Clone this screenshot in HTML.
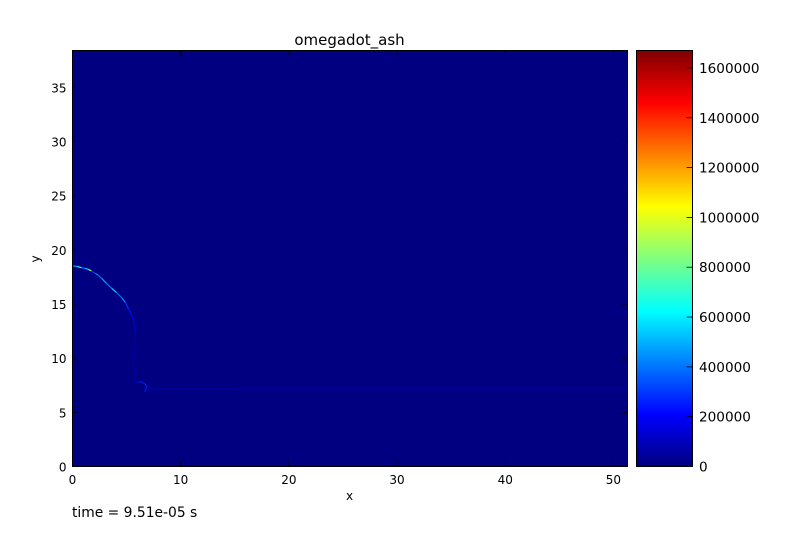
<!DOCTYPE html>
<html>
<head>
<meta charset="utf-8">
<title>omegadot_ash</title>
<style>
html,body{margin:0;padding:0;background:#fff;}
svg{display:block;}
text{font-family:"DejaVu Sans","Liberation Sans",sans-serif;fill:#000;}
</style>
</head>
<body>
<svg id="chart" xmlns="http://www.w3.org/2000/svg" width="793" height="550" viewBox="0 0 793 550"></svg>
<script>
const xTicks = [0, 10, 20, 30, 40, 50];
const yTicks = [0, 5, 10, 15, 20, 25, 30, 35];
const colorbarTicks = [0, 200000, 400000, 600000, 800000, 1000000, 1200000, 1400000, 1600000];
const xMax = 51.3;
const yMax = 38.4;
const valueMax = 1670000;

const frontX = [0.09,0.46,0.83,1.2,1.48,1.75,2.12,2.4,2.7,3.14,3.63,4.06,4.55,4.89,5.17,5.44,5.63,5.77,5.81,5.77,5.72,5.67,5.72,5.81,6.27,6.67,6.89,6.67];
const frontY = [18.51,18.47,18.35,18.28,18.19,18.05,17.82,17.64,17.36,16.9,16.44,16.07,15.58,15.14,14.59,14.03,13.48,12.74,12.1,11.17,10.25,9.33,8.4,7.78,7.85,7.64,7.39,6.86];
const frontValue = [500000,700000,400000,550000,850000,300000,450000,400000,480000,420000,560000,380000,450000,300000,240000,200000,150000,95000,65000,55000,50000,52000,60000,210000,250000,270000,250000,110000];

const trailX = [6.89, 15, 25, 35, 45, 51.2];
const trailY = [7.16, 7.16, 7.16, 7.16, 7.16, 7.16];
const trailValue = [50000, 42000, 40000, 40000, 38000, 38000];

const SVG_NS = 'http://www.w3.org/2000/svg';
const root = document.getElementById('chart');
const plot = {left: 72.5, top: 50.5, right: 627.5, bottom: 466.5};
const bar = {left: 636.5, top: 50.5, right: 692.5, bottom: 466.5};

function sx(v) { return plot.left + v / xMax * (plot.right - plot.left); }
function sy(v) { return plot.bottom - v / yMax * (plot.bottom - plot.top); }
function sv(v) { return bar.bottom - v / valueMax * (bar.bottom - bar.top); }

function jetChannel(t, c) {
  return Math.max(0, Math.min(1, 1.5 - Math.abs(4 * t - c)));
}
function jet(t) {
  const r = Math.round(255 * jetChannel(t, 3));
  const g = Math.round(255 * jetChannel(t, 2));
  const b = Math.round(255 * jetChannel(t, 1));
  return 'rgb(' + r + ',' + g + ',' + b + ')';
}
function colorOf(v) { return jet(v / valueMax); }

function make(tag, attrs, parent) {
  const el = document.createElementNS(SVG_NS, tag);
  for (const k in attrs) el.setAttribute(k, attrs[k]);
  (parent || root).appendChild(el);
  return el;
}

// Colorbar gradient
const defs = make('defs', {});
const grad = make('linearGradient', {id: 'jet-gradient', x1: 0, y1: 1, x2: 0, y2: 0}, defs);
for (let i = 0; i <= 64; i++) {
  make('stop', {offset: i / 64, 'stop-color': jet(i / 64)}, grad);
}

// Heatmap background
const heat = make('rect', {x: plot.left, y: plot.top, width: plot.right - plot.left, height: plot.bottom - plot.top, fill: jet(0)});



// Faint trailing band
const trailGroup = make('g', {fill: 'none', 'stroke-width': 2});


for (let i = 0; i < trailX.length - 1; i++) {
  const seg = make('line', {x1: sx(trailX[i]), y1: sy(trailY[i]), x2: sx(trailX[i + 1]), y2: sy(trailY[i + 1]), stroke: colorOf(trailValue[i])}, trailGroup);
  
  
}

// Flame front
const frontGroup = make('g', {fill: 'none', 'stroke-width': 1.15, 'stroke-linecap': 'butt'});


for (let i = 0; i < frontX.length - 1; i++) {
  const seg = make('line', {x1: sx(frontX[i]), y1: sy(frontY[i]), x2: sx(frontX[i + 1]), y2: sy(frontY[i + 1]), stroke: colorOf(frontValue[i])}, frontGroup);
  
  
}

// Plot ticks and labels
const tickGroup = make('g', {stroke: '#000', 'stroke-width': 0.8});


xTicks.forEach(function (t) {
  const x = sx(t);
  make('line', {x1: x, y1: plot.bottom, x2: x, y2: plot.bottom - 5.5}, tickGroup);
  make('line', {x1: x, y1: plot.top, x2: x, y2: plot.top + 5.5}, tickGroup);
  const label = make('text', {x: x, y: plot.bottom + 17.5, 'text-anchor': 'middle', 'font-size': 12});
  
  
  label.textContent = String(t);
});
yTicks.forEach(function (t) {
  const y = sy(t);
  make('line', {x1: plot.left, y1: y, x2: plot.left + 5.5, y2: y}, tickGroup);
  make('line', {x1: plot.right, y1: y, x2: plot.right - 5.5, y2: y}, tickGroup);
  const label = make('text', {x: plot.left - 6, y: y + 5, 'text-anchor': 'end', 'font-size': 12});
  
  
  label.textContent = String(t);
});

// Plot frame
const frame = make('rect', {x: plot.left, y: plot.top, width: plot.right - plot.left, height: plot.bottom - plot.top, fill: 'none', stroke: '#000', 'stroke-width': 1});



// Colorbar
const cbar = make('rect', {x: bar.left, y: bar.top, width: bar.right - bar.left, height: bar.bottom - bar.top, fill: 'url(#jet-gradient)'});


const cbarFrame = make('rect', {x: bar.left, y: bar.top, width: bar.right - bar.left, height: bar.bottom - bar.top, fill: 'none', stroke: '#000', 'stroke-width': 1});


colorbarTicks.forEach(function (t) {
  const y = sv(t);
  const tick = make('line', {x1: bar.right, y1: y, x2: bar.right - 6, y2: y, stroke: '#000', 'stroke-width': 0.8});
  
  
  const label = make('text', {x: bar.right + 6.5, y: y + 5, 'font-size': 13.6});
  
  
  label.textContent = String(t);
});

// Titles
const title = make('text', {x: 349.5, y: 45, 'text-anchor': 'middle', 'font-size': 15});


title.textContent = 'omegadot_ash';

const xTitle = make('text', {x: 349.5, y: 500, 'text-anchor': 'middle', 'font-size': 12});


xTitle.textContent = 'x';

const yTitle = make('text', {x: 0, y: 0, 'text-anchor': 'middle', 'font-size': 12, transform: 'translate(39.5 259) rotate(-90)'});


yTitle.textContent = 'y';

const timeLabel = make('text', {x: 72, y: 517, 'font-size': 13.85});


timeLabel.textContent = 'time = 9.51e-05 s';
</script>
</body>
</html>
